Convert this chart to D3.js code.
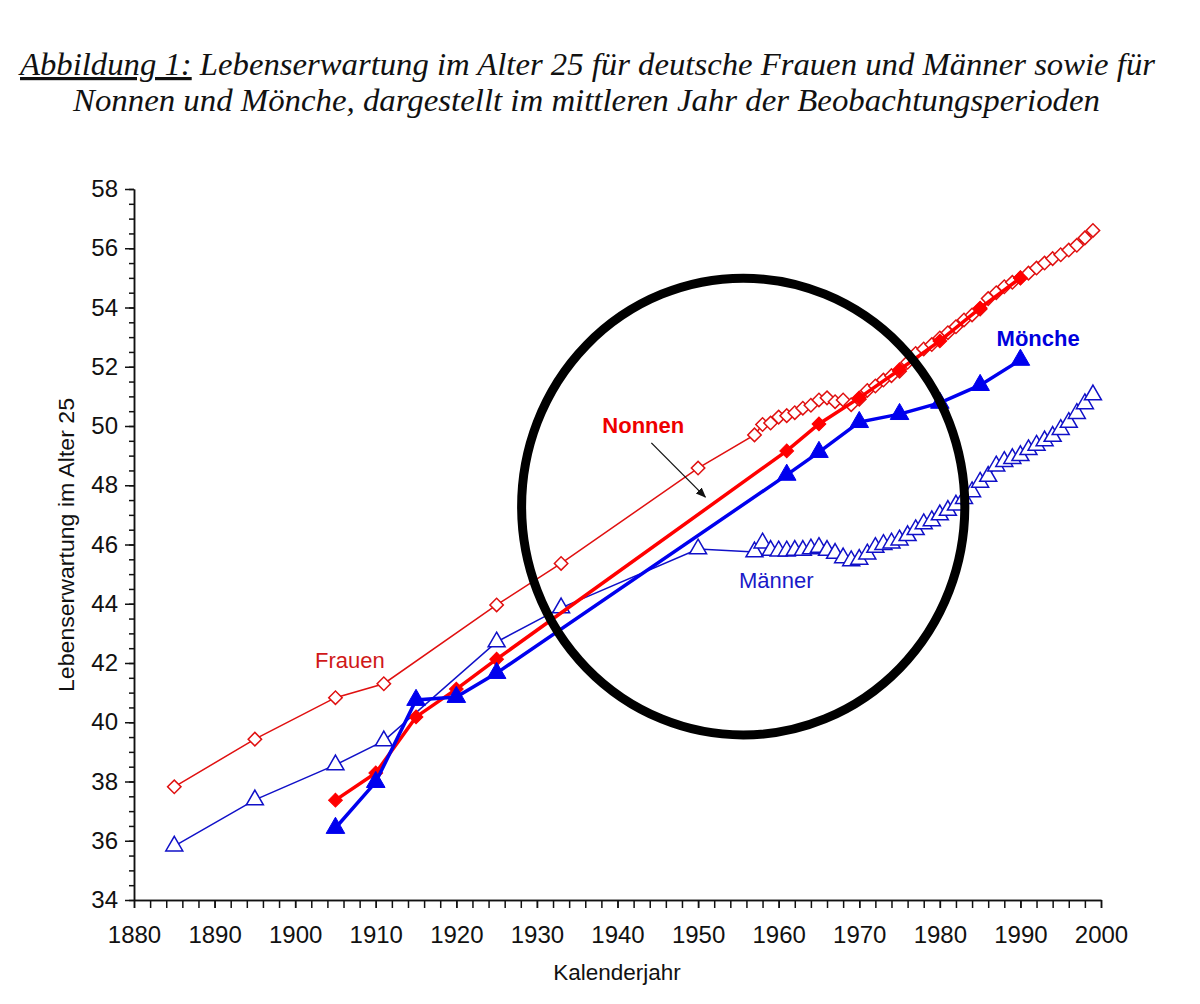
<!DOCTYPE html>
<html>
<head>
<meta charset="utf-8">
<script src="https://cdn.jsdelivr.net/npm/d3@7"></script>
<style>
  body { margin: 0; background: #fff; }
  svg { display: block; }
</style>
</head>
<body>
<svg id="chart" width="1200" height="1004"></svg>
<script>
// --- data ---
var frauenYears = [1885, 1895, 1905, 1911, 1925, 1933, 1950, 1957,
    1958, 1959, 1960, 1961, 1962, 1963, 1964, 1965, 1966, 1967, 1968, 1969,
    1970, 1971, 1972, 1973, 1974, 1975, 1976, 1977, 1978, 1979,
    1980, 1981, 1982, 1983, 1984, 1985, 1986, 1987, 1988, 1989,
    1990, 1991, 1992, 1993, 1994, 1995, 1996, 1997, 1998, 1999];
var frauenValues = [37.82, 39.43, 40.83, 41.3, 43.96, 45.36, 48.58, 49.7,
    50.05, 50.1, 50.3, 50.35, 50.45, 50.6, 50.7, 50.88, 50.95, 50.82, 50.88, 50.72,
    50.9, 51.2, 51.35, 51.55, 51.7, 51.85, 52.15, 52.45, 52.6, 52.75,
    52.97, 53.15, 53.35, 53.58, 53.75, 53.95, 54.3, 54.5, 54.7, 54.85,
    55.0, 55.16, 55.33, 55.5, 55.65, 55.78, 55.94, 56.1, 56.35, 56.6];

var maennerYears = frauenYears;
var maennerValues = [35.82, 37.38, 38.56, 39.37, 42.71, 43.86, 45.85, 45.75,
    46.05, 45.8, 45.78, 45.78, 45.8, 45.8, 45.85, 45.9, 45.8, 45.7, 45.55, 45.45,
    45.5, 45.68, 45.9, 46.0, 46.05, 46.15, 46.3, 46.5, 46.7, 46.8,
    47.0, 47.15, 47.33, 47.55, 47.78, 48.1, 48.3, 48.65, 48.8, 48.9,
    49.0, 49.2, 49.35, 49.5, 49.65, 49.88, 50.12, 50.42, 50.75, 51.05];

var klosterYears = [1905, 1910, 1915, 1920, 1925, 1961, 1965, 1970, 1975, 1980, 1985, 1990];
var nonnenValues = [37.37, 38.29, 40.18, 41.12, 42.13, 49.16, 50.07, 50.95, 51.9, 52.87, 53.98, 55.0];
var moencheValues = [36.43, 37.98, 40.75, 40.85, 41.66, 48.35, 49.12, 50.13, 50.4, 50.78, 51.38, 52.23];

var xTicks = [1880, 1890, 1900, 1910, 1920, 1930, 1940, 1950, 1960, 1970, 1980, 1990, 2000];
var yTicks = [34, 36, 38, 40, 42, 44, 46, 48, 50, 52, 54, 56, 58];

var svg = d3.select("#chart");

var x = d3.scaleLinear().domain([1880, 2000]).range([134, 1101]);
var y = d3.scaleLinear().domain([34, 58]).range([900, 189]);

function zip(xs, ys) {
    return xs.map(function(d, i) { return { x: d, y: ys[i] }; });
}

// title
var title = svg.append("g")
    .attr("font-family", "'Liberation Serif', 'Times New Roman', serif")
    .attr("font-style", "italic")
    .attr("font-size", 32)
    .attr("fill", "#111");

var t1 = title.append("text")
    .attr("x", 20).attr("y", 75)
    .attr("textLength", 1135).attr("lengthAdjust", "spacingAndGlyphs");
t1.append("tspan").attr("text-decoration", "underline").text("Abbildung 1:");
t1.append("tspan").text(" Lebenserwartung im Alter 25 für deutsche Frauen und Männer sowie für");

title.append("text")
    .attr("x", 73).attr("y", 111)
    .attr("textLength", 1027).attr("lengthAdjust", "spacingAndGlyphs")
    .text("Nonnen und Mönche, dargestellt im mittleren Jahr der Beobachtungsperioden");

// axes
var yMinor = d3.axisLeft(y).tickValues(d3.range(34, 58.01, 0.5)).tickSize(5).tickSizeOuter(0).tickFormat("");
var yAxis = d3.axisLeft(y).tickValues(yTicks).tickSize(9).tickSizeOuter(0).tickPadding(7);
var xMinor = d3.axisBottom(x).tickValues(d3.range(1880, 2000.01, 2)).tickSize(8).tickSizeOuter(0).tickFormat("");
var xAxis = d3.axisBottom(x).tickValues(xTicks).tickSize(8).tickSizeOuter(0).tickPadding(18).tickFormat(d3.format("d"));

function styleAxis(g) {
    g.selectAll("path, line").attr("stroke", "#111").attr("stroke-width", 1.5);
    g.selectAll("text").attr("font-family", "'Liberation Sans', Arial, sans-serif")
        .attr("font-size", 24).attr("fill", "#111");
}

svg.append("g").attr("transform", "translate(134,0)").call(yMinor).call(styleAxis);
svg.append("g").attr("transform", "translate(134,0)").call(yAxis).call(styleAxis);
svg.append("g").attr("transform", "translate(0,900)").call(xMinor).call(styleAxis);
svg.append("g").attr("transform", "translate(0,900)").call(xAxis).call(styleAxis);

svg.append("text")
    .attr("transform", "translate(74,545) rotate(-90)")
    .attr("text-anchor", "middle")
    .attr("font-family", "'Liberation Sans', Arial, sans-serif")
    .attr("font-size", 22)
    .attr("textLength", 294).attr("lengthAdjust", "spacingAndGlyphs")
    .attr("fill", "#111")
    .text("Lebenserwartung im Alter 25");

svg.append("text")
    .attr("x", 617).attr("y", 980)
    .attr("text-anchor", "middle")
    .attr("font-family", "'Liberation Sans', Arial, sans-serif")
    .attr("font-size", 22.5)
    .attr("fill", "#111")
    .text("Kalenderjahr");

// series
var line = d3.line()
    .x(function(d) { return x(d.x); })
    .y(function(d) { return y(d.y); });

var series = [
    { data: zip(frauenYears, frauenValues), color: "#e01010", width: 1.5, symbol: "diamond", filled: false, size: 90 },
    { data: zip(maennerYears, maennerValues), color: "#1010c8", width: 1.5, symbol: "triangle", filled: false, size: 125 },
    { data: zip(klosterYears, nonnenValues), color: "#ff0000", width: 3.5, symbol: "diamond", filled: true, size: 95 },
    { data: zip(klosterYears, moencheValues), color: "#0000ee", width: 3.5, symbol: "triangle", filled: true, size: 150 }
];

series.forEach(function(s) {
    var g = svg.append("g");
    g.append("path")
        .datum(s.data)
        .attr("fill", "none")
        .attr("stroke", s.color)
        .attr("stroke-width", s.width)
        .attr("d", line);

    var sym = d3.symbol()
        .type(s.symbol === "diamond" ? d3.symbolSquare : d3.symbolTriangle)
        .size(s.size);

    g.selectAll("path.pt")
        .data(s.data)
        .enter()
        .append("path")
        .attr("class", "pt")
        .attr("d", sym)
        .attr("transform", function(d) {
            return "translate(" + x(d.x) + "," + y(d.y) + ")" + (s.symbol === "diamond" ? " rotate(45)" : "");
        })
        .attr("fill", s.filled ? s.color : "#fff")
        .attr("stroke", s.color)
        .attr("stroke-width", s.filled ? 1 : 1.5);
});

// labels
function label(text, xv, yv, color, bold) {
    svg.append("text")
        .attr("x", x(xv)).attr("y", y(yv))
        .attr("dy", "0.35em")
        .attr("text-anchor", "middle")
        .attr("font-family", "'Liberation Sans', Arial, sans-serif")
        .attr("font-size", 22)
        .attr("font-weight", bold ? "bold" : "normal")
        .attr("fill", color)
        .text(text);
}
label("Frauen", 1906.8, 42.1, "#d01818", false);
label("Männer", 1959.7, 44.8, "#1a1ac8", false);
label("Nonnen", 1943.2, 50.03, "#ee0000", true);
label("Mönche", 1992.2, 52.97, "#0000dd", true);

// arrow Nonnen -> line
svg.append("defs").append("marker")
    .attr("id", "arrow")
    .attr("viewBox", "0 0 10 10")
    .attr("refX", 9).attr("refY", 5)
    .attr("markerWidth", 8).attr("markerHeight", 8)
    .attr("orient", "auto")
    .append("path")
    .attr("d", "M0,1 L10,5 L0,9 Z")
    .attr("fill", "#111");

svg.append("line")
    .attr("x1", x(1944.2)).attr("y1", y(49.43))
    .attr("x2", x(1950.9)).attr("y2", y(47.6))
    .attr("stroke", "#111")
    .attr("stroke-width", 1.3)
    .attr("marker-end", "url(#arrow)");

// big circle
svg.append("ellipse")
    .attr("cx", x(1955.6)).attr("cy", y(47.28))
    .attr("rx", x(1955.6 + 27.5) - x(1955.6))
    .attr("ry", y(47.28) - y(47.28 + 7.71))
    .attr("fill", "none")
    .attr("stroke", "#000")
    .attr("stroke-width", 9);
</script>
</body>
</html>
